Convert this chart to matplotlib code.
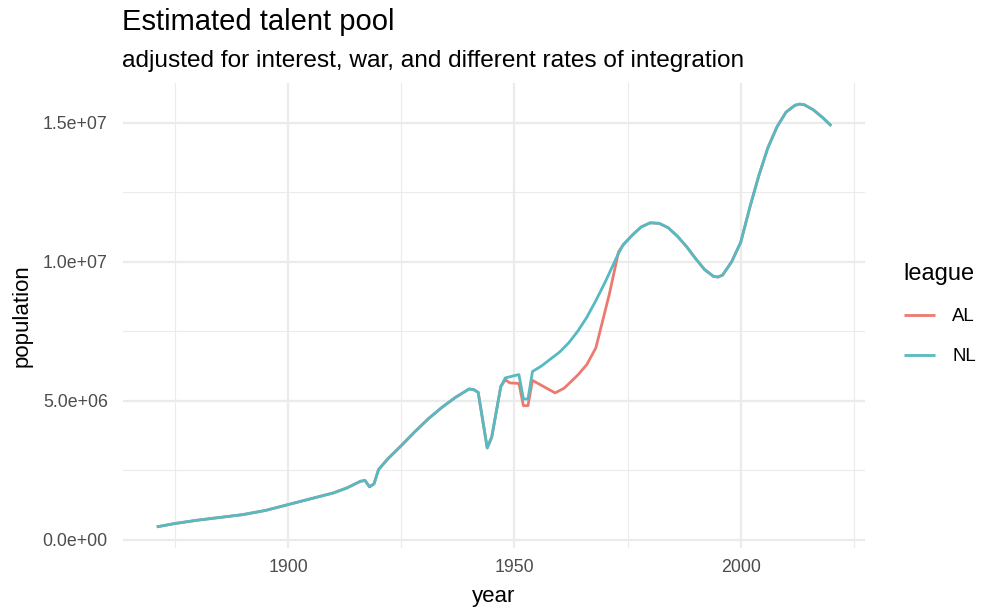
import numpy as np
import matplotlib
matplotlib.use("Agg")
import matplotlib.pyplot as plt
from matplotlib.ticker import MultipleLocator, FuncFormatter

plt.rcParams['font.family'] = ['Liberation Sans', 'DejaVu Sans']

# shared by both leagues before integration diverges (population, millions)
early_years = [1871, 1875, 1880, 1885, 1890, 1895, 1900, 1905, 1910, 1913, 1916, 1917,
               1918, 1919, 1920, 1922, 1925, 1928, 1931, 1934, 1937, 1940, 1941, 1942,
               1944, 1945, 1947]
early_pool = [0.46, 0.58, 0.70, 0.80, 0.90, 1.05, 1.26, 1.47, 1.68, 1.86, 2.10, 2.13,
              1.90, 2.01, 2.52, 2.90, 3.38, 3.88, 4.35, 4.76, 5.12, 5.42, 5.40, 5.30,
              3.30, 3.69, 5.51]

# 1948-1973, leagues differ
al_mid_years = [1948, 1949, 1951, 1952, 1953, 1954, 1959, 1961, 1964, 1966, 1968, 1971, 1973]
al_mid_pool = [5.75, 5.64, 5.62, 4.82, 4.82, 5.73, 5.28, 5.45, 5.92, 6.30, 6.90, 8.85, 10.35]

nl_mid_years = [1948, 1951, 1952, 1953, 1954, 1956, 1958, 1960, 1962, 1964, 1966, 1968,
                1970, 1972, 1973]
nl_mid_pool = [5.82, 5.94, 5.06, 5.06, 6.05, 6.25, 6.50, 6.75, 7.08, 7.50, 8.00, 8.60,
               9.25, 9.95, 10.30]

# shared again from 1974 on
late_years = [1974, 1976, 1978, 1980, 1982, 1984, 1986, 1988, 1990, 1992, 1994, 1995,
              1996, 1998, 2000, 2002, 2004, 2006, 2008, 2010, 2012, 2013, 2014, 2016,
              2018, 2020]
late_pool = [10.60, 10.95, 11.25, 11.40, 11.38, 11.22, 10.92, 10.55, 10.12, 9.72, 9.47, 9.45,
             9.52, 10.00, 10.70, 11.95, 13.10, 14.10, 14.85, 15.38, 15.63, 15.67, 15.65, 15.47,
             15.20, 14.89]

leagues = ["AL", "NL"]
colors = {"AL": "#EC7A70", "NL": "#55BAC1"}

series = {
    "AL": (early_years + al_mid_years + late_years, early_pool + al_mid_pool + late_pool),
    "NL": (early_years + nl_mid_years + late_years, early_pool + nl_mid_pool + late_pool),
}

fig = plt.figure(figsize=(9.83, 6.13), dpi=100)
ax = fig.add_axes([123 / 983, 1 - 548 / 613, (865 - 123) / 983, (548 - 83) / 613])

for lg in leagues:
    yrs, pool = series[lg]
    ax.plot(yrs, np.array(pool) * 1e6, color=colors[lg], lw=2.0, label=lg,
            solid_capstyle="butt", solid_joinstyle="round")

ax.margins(x=0.05, y=0.05)
ax.xaxis.set_major_locator(MultipleLocator(50))
ax.xaxis.set_minor_locator(MultipleLocator(25))
ax.yaxis.set_major_locator(MultipleLocator(5e6))
ax.yaxis.set_minor_locator(MultipleLocator(2.5e6))
ax.yaxis.set_major_formatter(FuncFormatter(lambda v, p: f"{v:.1e}"))
ax.xaxis.set_major_formatter(FuncFormatter(lambda v, p: f"{int(v)}"))

ax.grid(which="major", color="#EBEBEB", lw=1.6)
ax.grid(which="minor", color="#EBEBEB", lw=0.8)
ax.set_axisbelow(True)
for s in ax.spines.values():
    s.set_visible(False)
ax.tick_params(which="both", length=0, labelsize=12.8, labelcolor="#4D4D4D")
ax.tick_params(axis="x", pad=8)
ax.tick_params(axis="y", pad=11)

ax.set_xlabel("year", fontsize=16, labelpad=7)
ax.set_ylabel("population", fontsize=16, labelpad=7)

fig.text(122 / 983, 1 - 30 / 613, "Estimated talent pool", fontsize=21, va="baseline")
fig.text(122 / 983, 1 - 67 / 613, "adjusted for interest, war, and different rates of integration",
         fontsize=17.6, va="baseline")

leg = fig.legend(loc="upper left", bbox_to_anchor=(887 / 983, 1 - 246 / 613), frameon=False,
                 title="league", fontsize=13.4, title_fontsize=17, handlelength=1.7,
                 labelspacing=1.25, handletextpad=0.9, alignment="left")

fig.savefig("out.png", dpi=100)
